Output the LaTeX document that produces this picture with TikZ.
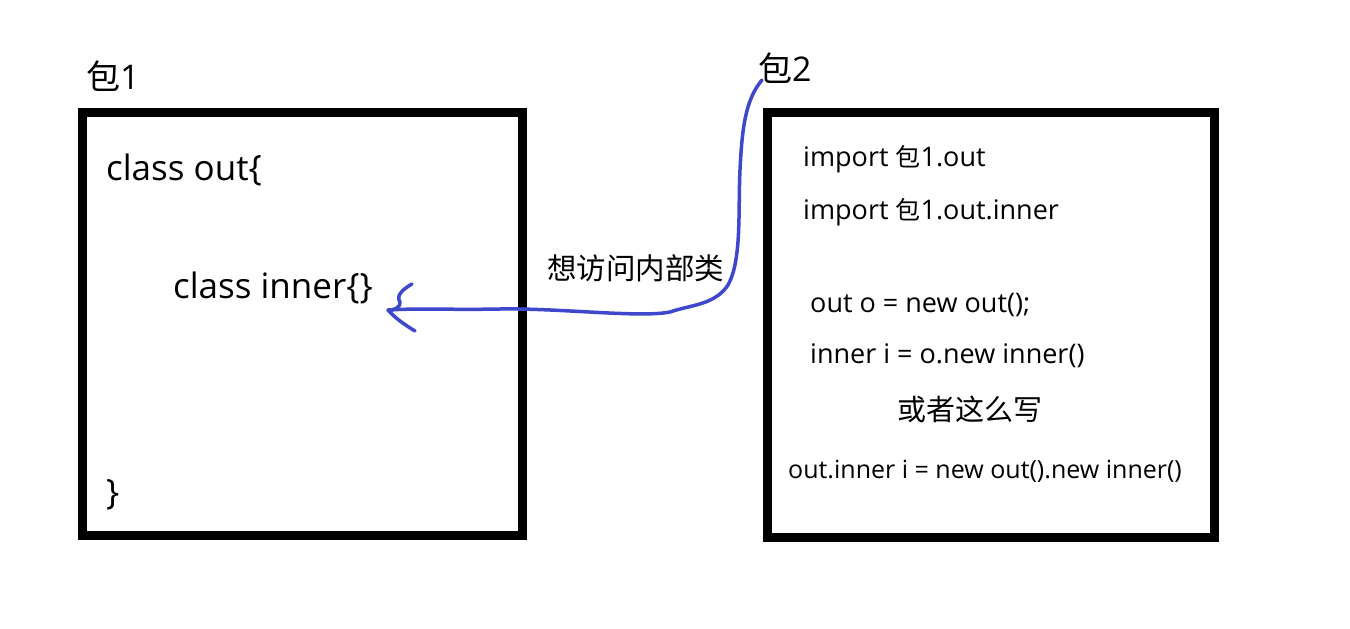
\documentclass[tikz,border=0pt]{standalone}
\usepackage{fontspec}
\setmainfont{Open Sans}
\newfontfamily\cjk{Noto Sans CJK SC}
\begin{document}
\begin{tikzpicture}[x=1pt,y=-1pt,
  boxx/.style={draw=black,line width=9pt},
  txt/.style={anchor=west,inner sep=0pt},
  pen/.style={draw={rgb,255:red,63;green,72;blue,204},line width=3.5pt,line cap=round,line join=round}]
\useasboundingbox[fill=white] (0,0) rectangle (1350,629);
\draw[boxx] (82,112) rectangle (522,535);
\draw[boxx] (767,112) rectangle (1214,537);
\node[txt,font=\fontsize{34}{40}\selectfont] (p1) at (86,76) {{\cjk 包}1};
\node[txt,font=\fontsize{34}{40}\selectfont] (p2) at (758,68) {{\cjk 包}2};
\node[txt,font=\fontsize{35}{40}\selectfont] (c1) at (106,170) {class out\{};
\node[txt,font=\fontsize{35}{40}\selectfont] (c2) at (173,288) {class inner\{\}};
\node[txt,font=\fontsize{35}{40}\selectfont] (c3) at (106,495) {\}};
\begin{scope}[font=\fontsize{27}{32}\selectfont]
\node[txt] (r1) at (803,159) {import {\cjk\fontsize{25}{30}\selectfont 包}1.out};
\node[txt] (r2) at (803,212) {import {\cjk\fontsize{25}{30}\selectfont 包}1.out.inner};
\node[txt] (r3) at (810,305) {out o = new out();};
\node[txt] (r4) at (810,356) {inner i = o.new inner()};
\end{scope}
\node[txt,font=\cjk\fontsize{29.5}{34}\selectfont] (lab) at (547,268) {想访问内部类};
\node[font=\cjk\fontsize{29}{34}\selectfont,inner sep=0pt] (r5) at (970,409) {或者这么写};
\node[txt,font=\fontsize{25}{30}\selectfont] (r6) at (788,471) {out.inner i = new out().new inner()};
\coordinate (s) at (762,80);
\coordinate (e) at (388,310);
\path[pen] (s) .. controls (745,100) and (742,130) .. (740,170)
  .. controls (738,210) and (742,260) .. (728,285)
  .. controls (715,305) and (690,305) .. (670,312)
  .. controls (640,318) and (560,308) .. (500,309)
  .. controls (450,310) and (420,308) .. (e);
\path[pen] (412,284) .. controls (405,288) and (395,295) .. (400,302)
  .. controls (402,306) and (392,312) .. (e)
  .. controls (395,318) and (405,325) .. (415,331);
\end{tikzpicture}
\end{document}
